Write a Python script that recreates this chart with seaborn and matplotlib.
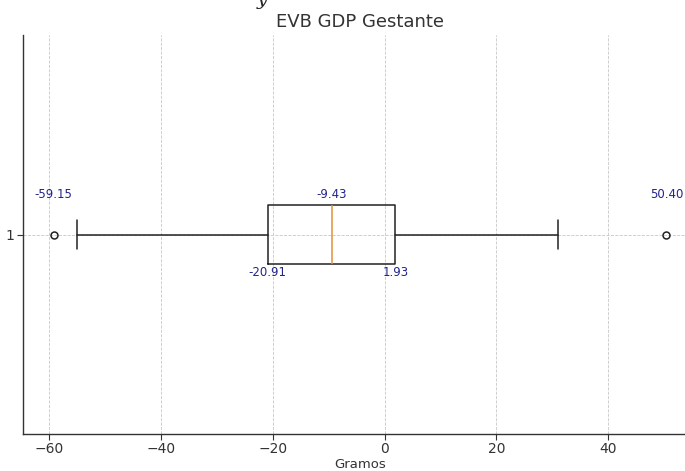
import matplotlib
matplotlib.use("Agg")
import matplotlib.pyplot as plt
import seaborn as sns

# Summary statistics of the weight gain distribution (grams)
label = "1"
whisker_low = -55.0
q1 = -20.91
median = -9.43
q3 = 1.93
whisker_high = 31.1
outliers = [-59.15, 50.40]

sns.set_theme(style="whitegrid")
plt.rcParams["font.family"] = ["DejaVu Sans"]

fig = plt.figure(figsize=(6.85, 4.71), dpi=100)
ax = fig.add_axes([0.0336, 0.0786, 0.984, 0.847])

stats = [{
    "label": label,
    "whislo": whisker_low,
    "q1": q1,
    "med": median,
    "q3": q3,
    "whishi": whisker_high,
    "fliers": outliers,
}]

ax.bxp(
    stats,
    vert=False,
    widths=0.15,
    showfliers=True,
    boxprops=dict(color="#222222", linewidth=1.1),
    whiskerprops=dict(color="#222222", linewidth=1.1),
    capprops=dict(color="#222222", linewidth=1.1),
    medianprops=dict(color="#e0913a", linewidth=1.1),
    flierprops=dict(marker="o", markerfacecolor="none", markeredgecolor="#222222",
                    markersize=5, markeredgewidth=1.1),
)

ax.set_ylim(0.5, 1.5)
lo = min(outliers + [whisker_low])
hi = max(outliers + [whisker_high])
pad = 0.05 * (hi - lo)
ax.set_xlim(lo - pad, hi + pad)

ax.grid(True, linestyle="--", linewidth=0.6, color="#c8c8c8")
for side in ("top", "right"):
    ax.spines[side].set_visible(False)
for side in ("left", "bottom"):
    ax.spines[side].set_color("#333333")
    ax.spines[side].set_linewidth(1.0)
ax.tick_params(axis="both", which="both", length=4, width=0.8, color="#333333",
               labelcolor="#333333", labelsize=10, bottom=True, left=True, pad=2)
ax.set_xticks([-60, -40, -20, 0, 20, 40])

ann_color = "#23238c"
for v in outliers:
    ax.text(v, 1.1, f"{v:.2f}", ha="center", va="center", color=ann_color, fontsize=8.5)
ax.text(median, 1.1, f"{median:.2f}", ha="center", va="center", color=ann_color, fontsize=8.5)
ax.text(q1, 0.905, f"{q1:.2f}", ha="center", va="center", color=ann_color, fontsize=8.5)
ax.text(q3, 0.905, f"{q3:.2f}", ha="center", va="center", color=ann_color, fontsize=8.5)

ax.set_xlabel("Gramos", fontsize=9.5, color="#333333", labelpad=1)
ax.set_title("EVB GDP Gestante", fontsize=13, color="#333333", pad=6)

fig.text(0.383, 1.0, "y", fontsize=14, family="DejaVu Serif", style="italic",
         color="#222222", ha="center", va="center")

fig.savefig("out.png", dpi=100)
